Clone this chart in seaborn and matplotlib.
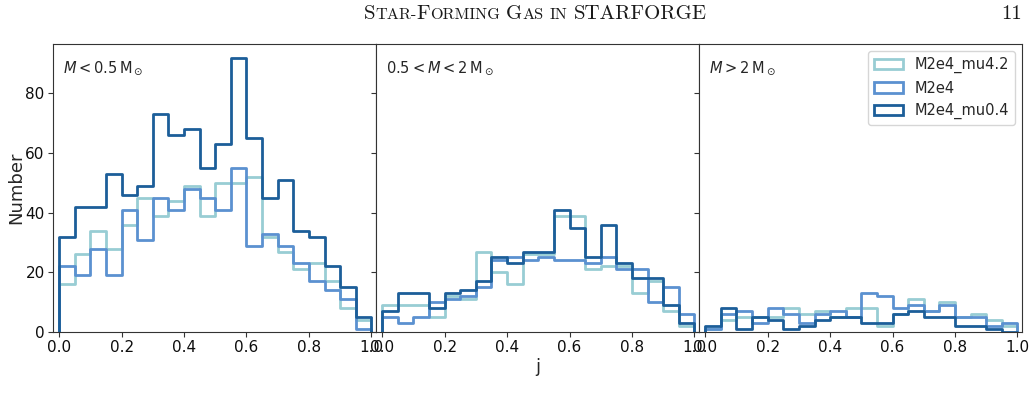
import matplotlib.pyplot as plt
import numpy as np
import pandas as pd
import seaborn as sns
from matplotlib.patches import Patch


# bin centres of the j histogram (width 0.05)
j_mid = [0.025, 0.075, 0.125, 0.175, 0.225, 0.275, 0.325, 0.375, 0.425, 0.475,
         0.525, 0.575, 0.625, 0.675, 0.725, 0.775, 0.825, 0.875, 0.925, 0.975]

runs = ["M2e4_mu4.2", "M2e4", "M2e4_mu0.4"]
mass_bins = [r"$M < 0.5\,\mathrm{M}_\odot$",
             r"$0.5 < M < 2\,\mathrm{M}_\odot$",
             r"$M > 2\,\mathrm{M}_\odot$"]

# counts per bin, M < 0.5 Msun
low_mu42 = [16, 26, 34, 28, 36, 45, 39, 44, 49, 39, 50, 50, 52, 32, 27, 21, 23, 17, 8, 4]
low_m2e4 = [22, 19, 28, 19, 41, 31, 45, 41, 48, 45, 41, 55, 29, 33, 29, 23, 17, 14, 11, 1]
low_mu04 = [32, 42, 42, 53, 46, 49, 73, 66, 68, 55, 63, 92, 65, 45, 51, 34, 32, 22, 15, 5]

# 0.5 < M < 2 Msun
mid_mu42 = [9, 9, 9, 5, 12, 11, 27, 20, 16, 26, 26, 39, 39, 21, 22, 22, 13, 17, 7, 2]
mid_m2e4 = [5, 3, 5, 10, 11, 12, 15, 24, 25, 24, 25, 24, 24, 23, 25, 21, 21, 10, 15, 6]
mid_mu04 = [7, 13, 13, 8, 13, 14, 17, 25, 23, 27, 27, 41, 35, 25, 36, 23, 18, 18, 9, 3]

# M > 2 Msun
high_mu42 = [1, 4, 5, 5, 5, 8, 6, 7, 5, 8, 8, 2, 6, 11, 7, 10, 5, 6, 4, 2]
high_m2e4 = [1, 6, 7, 3, 8, 6, 3, 6, 7, 5, 13, 12, 8, 9, 7, 9, 5, 5, 2, 3]
high_mu04 = [2, 8, 1, 5, 4, 1, 2, 4, 5, 5, 3, 3, 6, 7, 5, 5, 2, 2, 1, 0]

counts = [
    [low_mu42, low_m2e4, low_mu04],
    [mid_mu42, mid_m2e4, mid_mu04],
    [high_mu42, high_m2e4, high_mu04],
]
colors = {"M2e4_mu4.2": "#98cdd4", "M2e4": "#5b91d0", "M2e4_mu0.4": "#1c5e99"}

sns.set_style("ticks", {"axes.edgecolor": "0.2", "xtick.color": "0.2", "ytick.color": "0.2"})
plt.rcParams["font.family"] = ["DejaVu Sans"]


def small_caps(fig, xc, y, parts, size):
    # fake small caps: (text, full_size) pieces, None = word gap
    renderer = fig.canvas.get_renderer()
    pieces = []
    for txt, big in parts:
        if txt is None:
            pieces.append((None, size * 0.42))
            continue
        t = fig.text(0, y, txt, fontsize=size if big else size * 0.78,
                     family="cmr10", va="baseline", color="0.1")
        pieces.append((t, t.get_window_extent(renderer).width))
    total = sum(w for _, w in pieces)
    pos = xc * fig.bbox.width - total / 2
    for t, w in pieces:
        if t is not None:
            t.set_x(pos / fig.bbox.width)
        pos += w


fig, axes = plt.subplots(1, 3, sharey=True, figsize=(10.33, 3.95), dpi=100)
fig.subplots_adjust(left=0.0513, right=0.9894, top=0.8886, bottom=0.1595, wspace=0)

for ax, label, panel in zip(axes, mass_bins, counts):
    df = pd.DataFrame({"j": j_mid * 3,
                       "n": panel[0] + panel[1] + panel[2],
                       "run": np.repeat(runs, len(j_mid))})
    for run in runs:
        sub = df[df["run"] == run]
        sns.histplot(data=sub, x="j", weights="n", bins=20, binrange=(0, 1),
                     element="step", fill=False, color=colors[run], lw=2, ax=ax)
        # close the outline at both ends like a step histogram
        ax.vlines([0, 1], 0, [sub["n"].iloc[0], sub["n"].iloc[-1]],
                  color=colors[run], lw=2)
    ax.text(0.032, 0.915, label, transform=ax.transAxes, fontsize=10.5, va="center")
    ax.set_xlim(-0.02, 1.015)
    ax.set_xticks([0, 0.2, 0.4, 0.6, 0.8, 1.0])
    ax.tick_params(labelsize=11, pad=2.5, labelcolor="0.05")
    ax.set_xlabel("")
    ax.set_ylabel("")

axes[0].set_ylim(0, 96.6)
axes[0].set_yticks([0, 20, 40, 60, 80])
axes[0].set_ylabel("Number", fontsize=13)
axes[0].yaxis.set_label_coords(-0.085, 0.5)
axes[1].set_xlabel("j", fontsize=13, labelpad=2)

handles = [Patch(facecolor="white", edgecolor=colors[r], lw=2) for r in runs]
axes[2].legend(handles, runs, loc="upper right", fontsize=10.5, frameon=True)

fig.canvas.draw()
header = [("S", True), ("TAR-", False), ("F", True), ("ORMING", False), (None, None),
          ("G", True), ("AS", False), (None, None), ("IN", False), (None, None),
          ("STARFORGE", True)]
small_caps(fig, 0.518, 0.952, header, 15)
fig.text(0.989, 0.952, "11", family="cmr10", fontsize=15, ha="right", va="baseline", color="0.1")

fig.savefig("out.png", dpi=100)
